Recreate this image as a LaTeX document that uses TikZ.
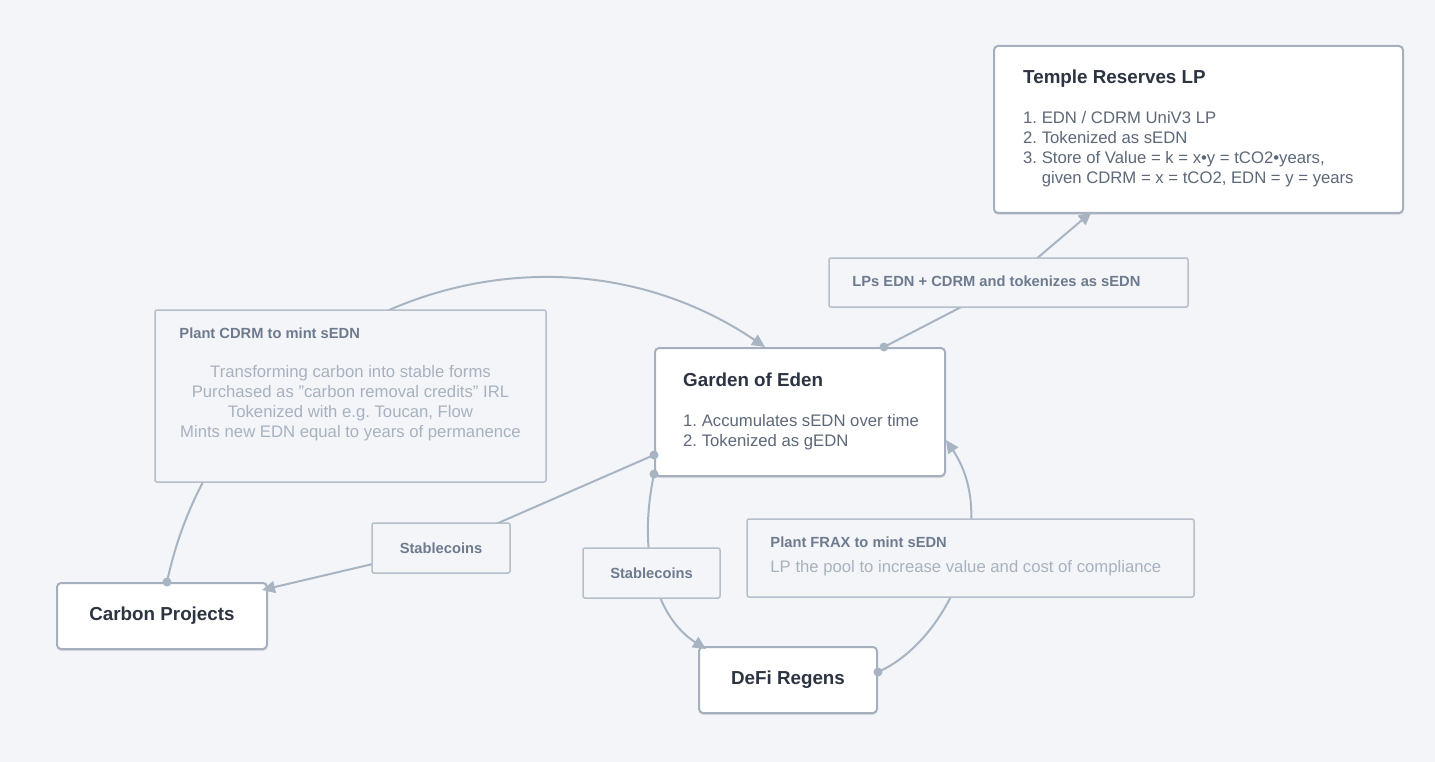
\documentclass[tikz,border=0pt]{standalone}
\usepackage{fontspec}
\setmainfont{Liberation Sans}
\usetikzlibrary{arrows.meta,shadows}
\definecolor{bgcol}{HTML}{F3F5F9}
\definecolor{boxline}{HTML}{A5AFBD}
\definecolor{labline}{HTML}{B5BFCB}
\definecolor{edgecol}{HTML}{A9B4C2}
\definecolor{titlecol}{HTML}{2D3441}
\definecolor{listcol}{HTML}{5D6878}
\definecolor{labcol}{HTML}{6E7A8E}
\definecolor{faintcol}{HTML}{A8B2BF}
\newcommand\boxtitlefont{\fontsize{18.8}{22}\selectfont\bfseries}
\newcommand\listfont{\fontsize{16.7}{20}\selectfont}
\newcommand\labfont{\fontsize{14.7}{18}\selectfont\bfseries}
\frenchspacing
\pgfdeclarelayer{back}
\pgfdeclarelayer{edges}
\pgfdeclarelayer{front}
\pgfsetlayers{back,main,edges,front}
\tikzset{
  mainbox/.style={draw=boxline, line width=2pt, fill=white, rounded corners=4pt, inner sep=0pt,
    drop shadow={shadow xshift=0pt, shadow yshift=-2pt, opacity=0.10, fill=black}},
  labelbox/.style={draw=labline, line width=1.5pt, fill=bgcol, rounded corners=2pt, inner sep=0pt},
  titletext/.style={inner sep=0pt, text=titlecol, font=\boxtitlefont},
  listtext/.style={inner sep=0pt, text=listcol, font=\listfont},
  labtext/.style={inner sep=0pt, text=labcol, font=\labfont},
  fainttext/.style={inner sep=0pt, text=faintcol, font=\listfont},
  flow/.style={draw=edgecol, line width=2pt, -{Triangle[length=13pt, width=12pt]}}
}

\begin{document}
\begin{tikzpicture}[x=1pt, y=-1pt]
\begin{pgfonlayer}{back}
  \fill[bgcol] (0,0) rectangle (1435,762);
\end{pgfonlayer}
\useasboundingbox (0,0) rectangle (1435,762);

% Main boxes
\node[mainbox, minimum width=409pt, minimum height=167pt] (temple) at (1198.5,129.5) {};
\node[mainbox, minimum width=290pt, minimum height=128pt] (garden) at (800,412) {};
\node[mainbox, minimum width=210pt, minimum height=66pt, titletext] (carbon) at (162,616) {Carbon Projects};
\node[mainbox, minimum width=178pt, minimum height=66pt, titletext] (defi) at (788,680) {DeFi Regens};

% Texts of the boxes
\node[titletext, anchor=base west] (templetitle) at ([shift={(30,39)}]temple.north west) {Temple Reserves LP};
\foreach \t [count=\i] in {1. EDN / CDRM UniV3 LP, 2. Tokenized as sEDN, {3. Store of Value = k = x•y = tCO2•years,}}
  \node[listtext, anchor=base west] (temple-\i) at ([shift={(30,59+20*\i)}]temple.north west) {\t};
\node[listtext, anchor=base west] (temple-4) at ([shift={(0,20)}]temple-3.base west) {\phantom{3. }given CDRM = x = tCO2, EDN = y = years};

\node[titletext, anchor=base west] (gardentitle) at ([shift={(29,39)}]garden.north west) {Garden of Eden};
\foreach \t [count=\i] in {1. Accumulates sEDN over time, 2. Tokenized as gEDN}
  \node[listtext, anchor=base west] (garden-\i) at ([shift={(29,59+20*\i)}]garden.north west) {\t};

% Labels
\begin{pgfonlayer}{front}
\node[labelbox, minimum width=359pt, minimum height=49pt] (lps) at (1008.5,282.5) {};
\node[labtext, anchor=base west] (lpstext) at ([shift={(24,29)}]lps.north west) {LPs EDN + CDRM and tokenizes as sEDN};

\node[labelbox, minimum width=391pt, minimum height=172pt] (cdrm) at (350.5,396) {};
\node[labtext, anchor=base west] (cdrmtitle) at ([shift={(25,29)}]cdrm.north west) {Plant CDRM to mint sEDN};
\foreach \t [count=\i] in {Transforming carbon into stable forms, Purchased as "carbon removal credits" IRL,
    {Tokenized with e.g. Toucan, Flow}, Mints new EDN equal to years of permanence}
  \node[fainttext, anchor=base] (cdrm-\i) at ([shift={(0,48+20*\i)}]cdrm.north) {\t};

\node[labelbox, minimum width=447pt, minimum height=78pt] (frax) at (970.5,558) {};
\node[labtext, anchor=base west] (fraxtitle) at ([shift={(24,29)}]frax.north west) {Plant FRAX to mint sEDN};
\node[fainttext, anchor=base west] (fraxtext) at ([shift={(24,54)}]frax.north west) {LP the pool to increase value and cost of compliance};

\node[labelbox, minimum width=138pt, minimum height=50pt, labtext] (stab1) at (441,548) {Stablecoins};
\node[labelbox, minimum width=137pt, minimum height=50pt, labtext] (stab2) at (651.5,573) {Stablecoins};
\end{pgfonlayer}

% Connectors
\coordinate (cp-dot) at ([xshift=5pt]carbon.north);
\coordinate (gl-dot) at ([yshift=-43pt]garden.west);
\coordinate (gl2-dot) at ([yshift=-62pt]garden.west);
\coordinate (defi-dot) at ([yshift=8pt]defi.east);
\coordinate (gt-dot) at ([xshift=84pt]garden.north);
\begin{pgfonlayer}{edges}
\draw[flow] (cp-dot) .. controls (225,310) and (540,195) .. ([xshift=-35pt]garden.north);
\draw[flow] (gl-dot) -- (stab1.center) -- ([xshift=-6pt, yshift=-8pt]carbon.north east);
\draw[flow] (gl2-dot) .. controls (636,560) and (660,620) .. ([xshift=8pt, yshift=-3pt]defi.north west);
\draw[flow] (defi-dot) .. controls (950,640) and (1000,520) .. ([yshift=-28pt]garden.east);
\draw[flow] (gt-dot) -- (lps.center) -- ([xshift=-107pt, yshift=2pt]temple.south);
\foreach \d in {cp-dot, gl-dot, gl2-dot, defi-dot, gt-dot}
  \fill[edgecol] (\d) circle[radius=4.5pt];
\end{pgfonlayer}
\end{tikzpicture}
\end{document}
